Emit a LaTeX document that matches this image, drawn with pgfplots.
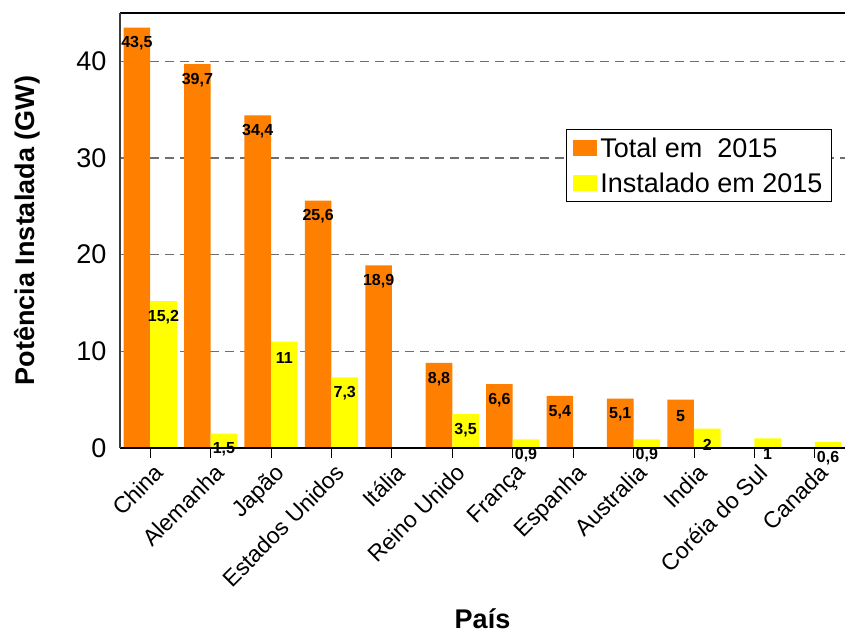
\documentclass[border=0pt]{standalone}
\usepackage{fontspec}
\setmainfont{Liberation Sans}
\usepackage{pgfplots}
\pgfplotsset{compat=1.18}
\definecolor{barorange}{RGB}{255,128,0}
\definecolor{baryellow}{RGB}{255,255,0}
\definecolor{gridgray}{RGB}{110,110,110}
\definecolor{axisgray}{RGB}{60,60,60}
\begin{document}
\begin{tikzpicture}
\begin{axis}[
  scale only axis, width=725pt, height=435pt,
  at={(0pt,0pt)}, anchor=south west,
  xmin=-0.5, xmax=11.5, ymin=0, ymax=45,
  ybar, bar width=0.44,
  clip=false,
  axis line style={draw=none},
  xtick={0,1,2,3,4,5,6,7,8,9,10,11},
  xticklabels={China, Alemanha, Japão, Estados Unidos, Itália, Reino Unido, França, Espanha, Australia, India, Coréia do Sul, Canada},
  xtick pos=bottom, tick align=outside, major tick length=10pt,
  xtick style={draw=black, line width=0.8pt},
  ytick={0,10,20,30,40}, ytick style={draw=none},
  ytick pos=left,
  /pgf/number format/assume math mode=true,
  /pgf/number format/use comma,
  /pgf/number format/1000 sep={},
  yticklabel style={font=\fontsize{27}{27}\selectfont},
  xticklabel style={rotate=45, anchor=north east, font=\fontsize{23}{23}\selectfont, inner sep=1pt, yshift=-4pt},
  ymajorgrids,
  grid style={gridgray, line width=1.3pt, dash pattern=on 9pt off 6pt},
  ylabel={Potência Instalada (GW)},
  ylabel style={at={(axis description cs:-0.128,0.5)}, anchor=center, font=\bfseries\fontsize{27}{27}\selectfont},
  xlabel={País},
  xlabel style={at={(axis description cs:0.5,-0.392)}, anchor=center, inner sep=0pt, font=\bfseries\fontsize{27}{27}\selectfont},
  nodes near coords,
  nodes near coords style={font=\bfseries\fontsize{16}{16}\selectfont, anchor=center, yshift=-16pt, text=black},
  legend style={at={(rel axis cs:0.982,0.733)}, anchor=north east, draw=black, line width=1pt,
    font=\fontsize{27}{27}\selectfont, inner xsep=7pt, inner ysep=6pt, row sep=10pt, column sep=1pt},
  legend cell align=left,
  legend image code/.code={\fill[#1] (0pt,-8pt) rectangle (24pt,8pt);},
]
\addplot[fill=barorange, draw=none, bar shift=-0.22] coordinates {
  (0,43.5) (1,39.7) (2,34.4) (3,25.6) (4,18.9) (5,8.8) (6,6.6) (7,5.4) (8,5.1) (9,5)
};
\addlegendentry{Total em\ \ 2015}
\addplot[fill=baryellow, draw=none, bar shift=0.22] coordinates {
  (0,15.2) (1,1.5) (2,11) (3,7.3) (5,3.5) (6,0.9) (8,0.9) (9,2) (10,1) (11,0.6)
};
\addlegendentry{Instalado em 2015\hspace{10pt}}
\draw[black, line width=1.6pt] (rel axis cs:0,0) -- (rel axis cs:1,0);
\draw[black, line width=1.6pt] (rel axis cs:0,1) -- (rel axis cs:1,1);
\draw[axisgray, line width=1.4pt] (rel axis cs:0,0) -- (rel axis cs:0,1);
\end{axis}
\pgfresetboundingbox
\path (-120pt,-184pt) rectangle (725pt,448pt);
\end{tikzpicture}
\end{document}
